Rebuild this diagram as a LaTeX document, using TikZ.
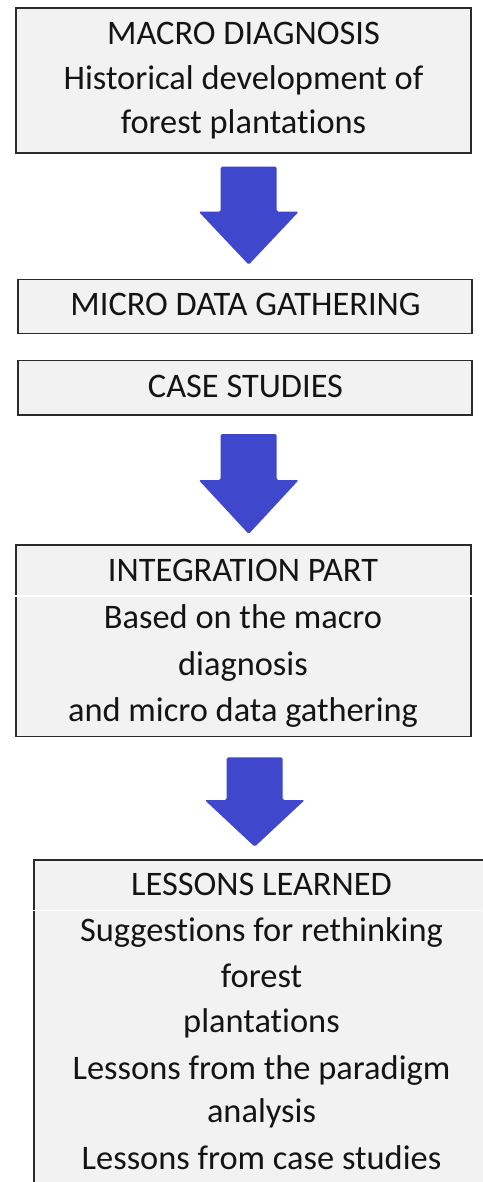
\documentclass[tikz,border=0pt]{standalone}
\usepackage{fontspec}
\setmainfont{Carlito}[Ligatures=NoCommon]
\definecolor{boxfill}{HTML}{F2F2F2}
\definecolor{boxline}{HTML}{2B2B2B}
\definecolor{arrowblue}{RGB}{63,72,204}
\definecolor{inktext}{HTML}{141414}
\tikzset{
  stage/.style={draw=boxline, line width=1.5pt, fill=boxfill, rectangle, inner sep=0pt},
  txt/.style={anchor=base, inner sep=0pt, text=inktext, font=\fontsize{34.4}{45}\selectfont},
  divider/.style={draw=white, line width=1.6pt},
  pics/downarrow/.style args={#1/#2/#3}{
    code={
      % #1 shaft length, #2 head length, #3 head half-width
      \fill[arrowblue, rounded corners=1.5pt]
        (-28,0) -- (28,0) -- (28,#1) -- (#3,#1) -- (0,#1+#2)
        -- (-#3,#1) -- (-28,#1) -- cycle;
    }
  }
}
\begin{document}
\begin{tikzpicture}[x=1pt, y=-1pt]
  \useasboundingbox (0,0) rectangle (482,1182);
  \fill[white] (0,0) rectangle (482,1182);

  % boxes
  \node[stage, minimum width=455pt, minimum height=145pt] (macro) at (243.5,80.5) {};
  \node[stage, minimum width=454pt, minimum height=54pt] (micro) at (245,306.3) {};
  \node[stage, minimum width=454pt, minimum height=54.3pt] (cases) at (245,387.85) {};
  \node[stage, minimum width=455pt, minimum height=191.7pt] (integ) at (243.5,640.85) {};
  \node[stage, minimum width=455pt, minimum height=340pt, line width=1.8pt] (lessons) at (261.5,1030) {};

  % row dividers inside the two-part boxes
  \coordinate (dA) at (14,595.7);
  \coordinate (dB) at (473,595.7);
  \draw[divider] (dA) -- (dB);
  \coordinate (dC) at (32,910.5);
  \coordinate (dD) at (482,910.5);
  \draw[divider] (dC) -- (dD);

  % block arrows between stages
  \pic at (248.7,166.7) {downarrow={45/53/50}};
  \pic at (248.7,434) {downarrow={46/54/50}};
  \pic at (254.7,757.3) {downarrow={42.7/46.7/50}};

  % texts
  \node[txt] (t1a) at (243.5,45) {MACRO DIAGNOSIS};
  \node[txt] (t1b) at (243.5,90) {Historical development of};
  \node[txt] (t1c) at (243.5,134) {forest plantations};

  \node[txt] (t2a) at (245.5,315) {MICRO DATA GATHERING};
  \node[txt] (t3a) at (245.5,397) {CASE STUDIES};

  \node[txt] (t4a) at (243,581.7) {INTEGRATION PART};
  \node[txt] (t4b) at (243,628.3) {Based on the macro};
  \node[txt] (t4c) at (243,675) {diagnosis};
  \node[txt] (t4d) at (243,721.7) {and micro data gathering};

  \node[txt] (t5a) at (261.5,895) {LESSONS LEARNED};
  \node[txt] (t5b) at (261.5,941.5) {Suggestions for rethinking};
  \node[txt] (t5c) at (261.5,987) {forest};
  \node[txt] (t5d) at (261.5,1032.5) {plantations};
  \node[txt] (t5e) at (261.5,1079) {Lessons from the paradigm};
  \node[txt] (t5f) at (261.5,1122) {analysis};
  \node[txt] (t5g) at (261.5,1169) {Lessons from case studies};
\end{tikzpicture}
\end{document}
